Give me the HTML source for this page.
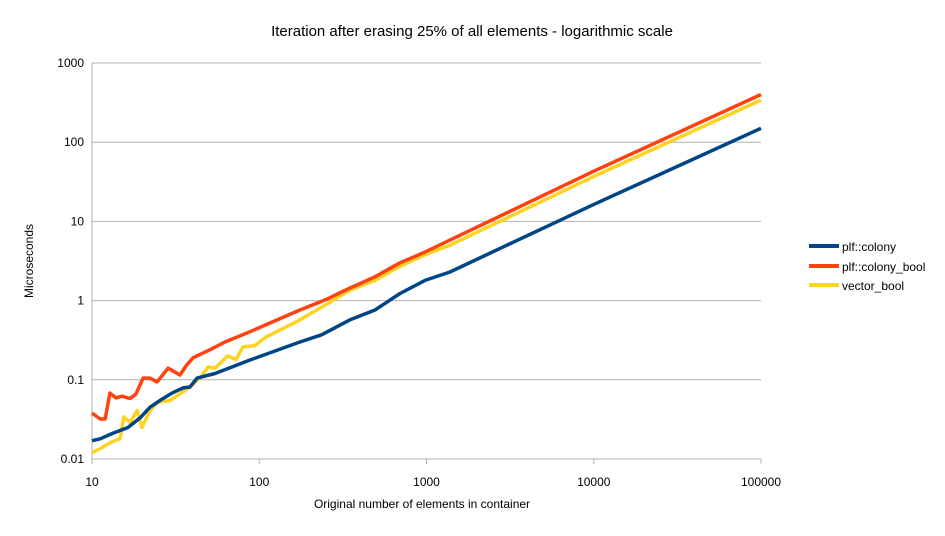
<!DOCTYPE html>
<html><head><meta charset="utf-8"><style>
body{margin:0;background:#fff;}
svg text{font-family:"Liberation Sans",sans-serif;fill:#000;}
</style></head><body>
<svg id="chart" width="945" height="531" viewBox="0 0 945 531">
<text x="472" y="36" text-anchor="middle" font-size="15">Iteration after erasing 25% of all elements - logarithmic scale</text>
<g id="grid"></g>
<g id="lines"></g>
<text x="422" y="508" text-anchor="middle" font-size="12">Original number of elements in container</text>
<text transform="translate(33,261) rotate(-90)" text-anchor="middle" font-size="12">Microseconds</text>
<g>
<g><line x1="809" y1="246" x2="839" y2="246" stroke="#004586" stroke-width="4"/><text x="842" y="251" font-size="12">plf::colony</text></g>
<g><line x1="809" y1="266" x2="839" y2="266" stroke="#ff420e" stroke-width="4"/><text x="842" y="271" font-size="12">plf::colony_bool</text></g>
<g><line x1="809" y1="285" x2="839" y2="285" stroke="#ffd320" stroke-width="4"/><text x="842" y="290" font-size="12">vector_bool</text></g>
</g>
</svg>
<script>
const xTicks=[10,100,1000,10000,100000];
const xTickLabels=["10","100","1000","10000","100000"];
const yTicks=[0.01,0.1,1,10,100,1000];
const yTickLabels=["0.01","0.1","1","10","100","1000"];
const colonyN=[10,11.2,13.2,16.4,19.4,22.2,25.5,30.1,35,38.5,42.5,54.4,68.6,88,175,236,348,492,694,980,1381,10000,100000];
const colonyV=[0.017,0.018,0.021,0.025,0.033,0.045,0.055,0.068,0.079,0.081,0.105,0.12,0.145,0.178,0.30,0.37,0.57,0.76,1.23,1.8,2.3,16.4,150];
const boolN=[10,11.2,12,12.8,13.9,15.1,16.9,18.3,20.2,22.2,24.5,28.5,33.6,36.5,40.3,50.8,62.4,88,175,248,348,492,694,980,1381,10000,100000];
const boolV=[0.038,0.032,0.032,0.068,0.059,0.062,0.058,0.066,0.105,0.105,0.094,0.14,0.115,0.15,0.19,0.24,0.3,0.405,0.76,1.02,1.44,2.0,3.0,4.1,5.8,43,400];
const vecN=[10,11.2,12.8,14.7,15.5,16.9,18.6,19.9,22.2,24.8,29.3,32.6,38.5,44.2,49.4,54.4,64.7,72.6,80,94.4,108,175,248,348,492,694,980,1381,10000,100000];
const vecV=[0.012,0.0135,0.016,0.018,0.034,0.029,0.041,0.025,0.041,0.052,0.055,0.064,0.081,0.105,0.145,0.14,0.2,0.18,0.26,0.27,0.34,0.57,0.88,1.35,1.8,2.7,3.8,5.0,37,340];
const X0=92,X1=761,Y0=459,Y1=63;
function xs(n){return X0+(Math.log10(n)-1)/4*(X1-X0);}
function ys(v){return Y0-(Math.log10(v)+2)/5*(Y0-Y1);}
const NS="http://www.w3.org/2000/svg";
const grid=document.getElementById('grid'),lines=document.getElementById('lines');
yTicks.forEach((t,i)=>{
 const l=document.createElementNS(NS,'line');
 l.setAttribute('x1',X0);l.setAttribute('x2',X1);l.setAttribute('y1',ys(t));l.setAttribute('y2',ys(t));
 l.setAttribute('stroke','#b3b3b3');l.setAttribute('stroke-width','1');
 
 
 grid.appendChild(l);
 const tx=document.createElementNS(NS,'text');
 tx.setAttribute('x',X0-8);tx.setAttribute('y',ys(t)+4);tx.setAttribute('text-anchor','end');tx.setAttribute('font-size','12');
 tx.textContent=yTickLabels[i];
 
 
 grid.appendChild(tx);
});
const ax=document.createElementNS(NS,'line');
ax.setAttribute('x1',X0);ax.setAttribute('x2',X0);ax.setAttribute('y1',Y1);ax.setAttribute('y2',Y0);ax.setAttribute('stroke','#b3b3b3');


grid.appendChild(ax);
xTicks.forEach((t,i)=>{
 const l=document.createElementNS(NS,'line');
 l.setAttribute('x1',xs(t));l.setAttribute('x2',xs(t));l.setAttribute('y1',Y0);l.setAttribute('y2',Y0+5);l.setAttribute('stroke','#b3b3b3');
 
 
 grid.appendChild(l);
 const tx=document.createElementNS(NS,'text');
 tx.setAttribute('x',xs(t));tx.setAttribute('y',Y0+27);tx.setAttribute('text-anchor','middle');tx.setAttribute('font-size','12');
 tx.textContent=xTickLabels[i];
 
 
 grid.appendChild(tx);
});
function series(N,V,color,name){
 const p=document.createElementNS(NS,'polyline');
 p.setAttribute('points',N.map((n,i)=>xs(n).toFixed(1)+','+ys(V[i]).toFixed(1)).join(' '));
 p.setAttribute('fill','none');p.setAttribute('stroke',color);p.setAttribute('stroke-width','3.5');p.setAttribute('stroke-linejoin','round');
 
 
 lines.appendChild(p);
}
series(vecN,vecV,'#ffd320','line-vector-bool');
series(boolN,boolV,'#ff420e','line-colony-bool');
series(colonyN,colonyV,'#004586','line-colony');
</script>
</body></html>
